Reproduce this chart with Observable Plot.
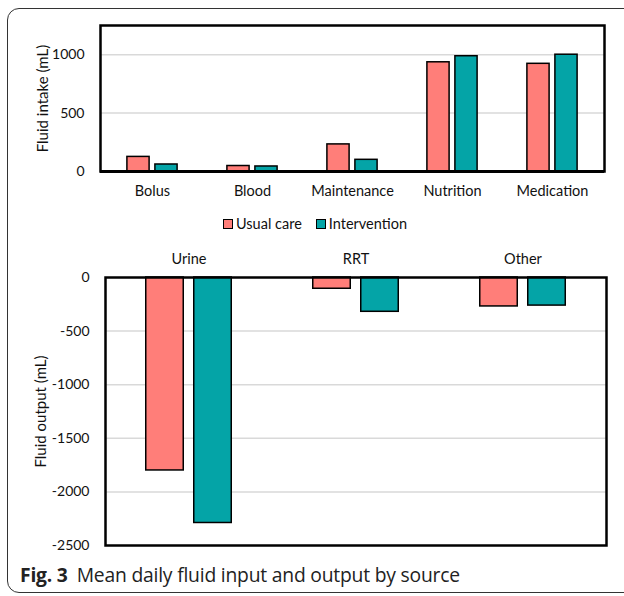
<!DOCTYPE html>
<html>
<head>
<meta charset="utf-8">
<script src="https://cdn.jsdelivr.net/npm/d3@7"></script>
<script src="https://cdn.jsdelivr.net/npm/@observablehq/plot@0.6"></script>
<style>
  html, body { margin: 0; padding: 0; background: #fff; overflow: hidden; }
  #wrap { position: relative; width: 624px; height: 596px; overflow: hidden; font-family: Lato, "Open Sans", sans-serif; }
  #box { position: absolute; left: 7px; top: 8px; width: 640px; height: 585px; border: 1px solid #333; border-radius: 12px; box-sizing: border-box; }
  #top { position: absolute; left: 0; top: 0; }
  #bottom { position: absolute; left: 0; top: 230px; }
  #legend { position: absolute; left: 223px; top: 215px; display: flex; gap: 14px; font-size: 14.5px; color: #111; }
  #legend span.item { display: flex; align-items: center; gap: 3px; }
  #legend span.sw { width: 8px; height: 8px; border: 1.2px solid #000; display: inline-block; }
  #caption { position: absolute; left: 20px; top: 561px; font-family: "Open Sans", sans-serif; font-size: 19.3px; color: #222; white-space: nowrap; letter-spacing: -0.2px; }
  #caption b { font-weight: 700; margin-right: 9px; }
</style>
</head>
<body>
<div id="wrap">
  <div id="box"></div>
  <div id="top"></div>
  <div id="legend"></div>
  <div id="bottom"></div>
  <div id="caption"><b>Fig. 3</b>Mean daily fluid input and output by source</div>
</div>
<script>
// ---- data ----
const seriesNames = ["Usual care", "Intervention"];
const seriesColors = ["#FF7E79", "#04A4A7"];

const inputCategories = ["Bolus", "Blood", "Maintenance", "Nutrition", "Medication"];
const inputUsual = [125, 47, 232, 935, 922];
const inputIntervention = [60, 43, 100, 987, 1000];
const inputTicks = [0, 500, 1000];
const inputTitle = "Fluid intake (mL)";

const outputCategories = ["Urine", "RRT", "Other"];
const outputUsual = [-1800, -105, -270];
const outputIntervention = [-2290, -320, -262];
const outputTicks = [0, -500, -1000, -1500, -2000, -2500];
const outputTitle = "Fluid output (mL)";

// ---- build tables ----
const inputUsualRows = inputCategories.map((c, i) => ({cat: c, value: inputUsual[i]}));
const inputIntRows = inputCategories.map((c, i) => ({cat: c, value: inputIntervention[i]}));
const outputUsualRows = outputCategories.map((c, i) => ({cat: c, value: outputUsual[i]}));
const outputIntRows = outputCategories.map((c, i) => ({cat: c, value: outputIntervention[i]}));

const font = "Lato, 'Open Sans', sans-serif";
const fmt = d => d < 0 ? "-" + Math.abs(d) : String(d);

// ---- top chart ----
const topW = 624, topH = 205;
const topBand = (topW - 100 - 20) / inputCategories.length;
const topBarW = 23, topOff = 14;
const topInset = (topBand - topBarW) / 2;

const topChart = Plot.plot({
  width: topW, height: topH,
  marginTop: 25, marginLeft: 100, marginRight: 20, marginBottom: 34,
  style: {fontFamily: font, fontSize: "14px", color: "#111", background: "transparent"},
  x: {domain: inputCategories, padding: 0, label: null, axis: null},
  y: {domain: [0, 1250], label: null, axis: null},
  marks: [
    Plot.gridY(inputTicks.filter(d => d !== 0), {stroke: "#d9d9d9", strokeOpacity: 1, strokeWidth: 1.5}),
    Plot.barY(inputUsualRows, {x: "cat", y: "value", fill: seriesColors[0], stroke: "#000", strokeWidth: 1.5, insetLeft: topInset, insetRight: topInset, dx: -topOff}),
    Plot.barY(inputIntRows, {x: "cat", y: "value", fill: seriesColors[1], stroke: "#000", strokeWidth: 1.5, insetLeft: topInset, insetRight: topInset, dx: topOff}),
    Plot.frame({stroke: "#000", strokeWidth: 2.5}),
    Plot.ruleY([0], {stroke: "#000", strokeWidth: 3}),
    Plot.axisY({ticks: inputTicks, tickSize: 0, tickPadding: 16, fontSize: 14, tickFormat: fmt, label: null}),
    Plot.text([inputTitle], {frameAnchor: "left", textAnchor: "middle", rotate: -90, dx: -57, fontSize: 15, fill: "#111"}),
    Plot.axisX({tickSize: 0, tickPadding: 14, fontSize: 14.5, label: null})
  ]
});
document.getElementById("top").appendChild(topChart);

// ---- legend ----
const legend = document.getElementById("legend");
seriesNames.forEach((name, i) => {
  const item = document.createElement("span");
  item.className = "item";
  const sw = document.createElement("span");
  sw.className = "sw";
  sw.style.background = seriesColors[i];
  const t = document.createElement("span");
  t.textContent = name;
  item.appendChild(sw); item.appendChild(t);
  legend.appendChild(item);
});

// ---- bottom chart ----
const botW = 624, botH = 330;
const botBand = (botW - 105 - 18) / outputCategories.length;
const botBarW = 37.5, botOff = 24;
const botInset = (botBand - botBarW) / 2;

const botChart = Plot.plot({
  width: botW, height: botH,
  marginTop: 47, marginLeft: 105, marginRight: 18, marginBottom: 15,
  style: {fontFamily: font, fontSize: "14px", color: "#111", background: "transparent"},
  x: {domain: outputCategories, padding: 0, label: null, axis: null},
  y: {domain: [-2500, 0], label: null, axis: null},
  marks: [
    Plot.gridY(outputTicks.filter(d => d !== 0 && d !== -2500), {stroke: "#d9d9d9", strokeOpacity: 1, strokeWidth: 1.5}),
    Plot.barY(outputUsualRows, {x: "cat", y: "value", fill: seriesColors[0], stroke: "#000", strokeWidth: 1.5, insetLeft: botInset, insetRight: botInset, dx: -botOff}),
    Plot.barY(outputIntRows, {x: "cat", y: "value", fill: seriesColors[1], stroke: "#000", strokeWidth: 1.5, insetLeft: botInset, insetRight: botInset, dx: botOff}),
    Plot.frame({stroke: "#000", strokeWidth: 2.5}),
    Plot.axisY({ticks: outputTicks, tickSize: 0, tickPadding: 16, fontSize: 14, tickFormat: fmt, label: null}),
    Plot.text([outputTitle], {frameAnchor: "left", textAnchor: "middle", rotate: -90, dx: -64, fontSize: 15, fill: "#111"}),
    Plot.axisX({anchor: "top", tickSize: 0, tickPadding: 14, fontSize: 14.5, label: null})
  ]
});
document.getElementById("bottom").appendChild(botChart);
</script>
</body>
</html>
